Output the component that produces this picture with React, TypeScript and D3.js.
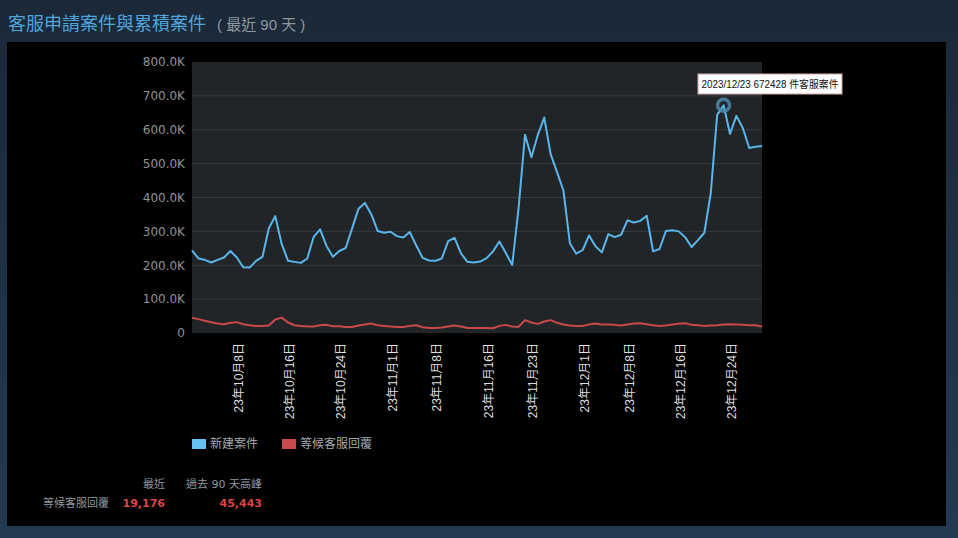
import * as d3 from "d3";

// 90 days, 2023-10-01 .. 2023-12-29
const startDay = new Date(2023, 9, 1);

// 新建案件 (daily new cases)
const newCases = [
  244000, 220000, 216000, 208000, 216000, 223000, 242000, 223000, 194000, 193000,
  213000, 225000, 309000, 345000, 263000, 213000, 210000, 207000, 220000, 284000,
  306000, 257000, 225000, 242000, 251000, 309000, 367000, 384000, 350000, 301000,
  296000, 299000, 286000, 282000, 298000, 259000, 222000, 214000, 213000, 220000,
  271000, 281000, 235000, 210000, 208000, 211000, 221000, 241000, 270000, 236000,
  201000, 370000, 585000, 519000, 585000, 636000, 528000, 475000, 420000, 265000,
  234000, 245000, 288000, 256000, 238000, 292000, 283000, 290000, 333000, 326000,
  331000, 346000, 241000, 248000, 301000, 303000, 300000, 283000, 254000, 274000,
  296000, 413000, 644000, 672428, 588000, 641000, 605000, 546000, 550000, 552000,
];

// 等候客服回覆 (waiting for a reply)
const waiting = [
  44800, 41000, 36000, 32000, 28000, 26000, 30000, 32000, 26000, 23000,
  21000, 21000, 22000, 40000, 45443, 31000, 23000, 21000, 19000, 19000,
  23000, 24000, 20000, 20000, 18000, 18000, 22000, 25000, 28000, 23000,
  21000, 19000, 18000, 18000, 21000, 23000, 17000, 15000, 15000, 16000,
  19000, 22000, 19000, 15000, 15000, 15000, 15000, 14000, 21000, 24000,
  19000, 18000, 38000, 31000, 27000, 34000, 38000, 30000, 25000, 22000,
  21000, 21000, 25000, 28000, 25000, 25000, 24000, 22000, 25000, 28000,
  29000, 26000, 23000, 21000, 22000, 25000, 27000, 29000, 24000, 23000,
  21000, 22000, 23000, 25000, 26000, 25000, 24000, 23000, 23000, 19176,
];

const tickDates = [
  "2023-10-08", "2023-10-16", "2023-10-24", "2023-11-01", "2023-11-08", "2023-11-16",
  "2023-11-23", "2023-12-01", "2023-12-08", "2023-12-16", "2023-12-24",
];
const yTicks = [0, 100000, 200000, 300000, 400000, 500000, 600000, 700000, 800000];

const series = [
  { name: "新建案件", values: newCases, line: "#59b6ea", swatch: "#66c0f4" },
  { name: "等候客服回覆", values: waiting, line: "#c94848", swatch: "#c94a4a" },
];

const highlightIndex = 83; // 2023/12/23

const W = 958;
const H = 538;
const plot = { left: 192, right: 762, top: 62, bottom: 333 };

const FONT = "'DejaVu Sans', 'Noto Sans CJK TC', sans-serif";
const CJK = "'Liberation Sans', 'Noto Sans CJK TC', sans-serif";

export default function App() {
  const days = d3.range(newCases.length).map((i) => d3.timeDay.offset(startDay, i));
  const parse = d3.timeParse("%Y-%m-%d");
  const fmtTick = d3.timeFormat("%y年%-m月%-d日");
  const fmtTip = d3.timeFormat("%Y/%m/%d");

  const x = d3
    .scaleTime()
    .domain([days[0], days[days.length - 1]])
    .range([plot.left, plot.right]);
  const y = d3.scaleLinear().domain([0, 800000]).range([plot.bottom, plot.top]);

  const line = d3
    .line<number>()
    .x((_, i) => x(days[i]))
    .y((d) => y(d));

  const yLabel = (v: number) => (v === 0 ? "0" : `${d3.format(".1f")(v / 1000)}K`);
  const num = d3.format(",");

  const hx = x(days[highlightIndex]);
  const hy = y(newCases[highlightIndex]);
  const recent = waiting[waiting.length - 1];
  const peak = d3.max(waiting) as number;

  return (
    <div style={{ position: "fixed", left: 0, top: 0 }}>
      <svg width={W} height={H} style={{ display: "block" }}>
        <defs>
          <linearGradient id="bg" x1="0" y1="0" x2="0" y2="1">
            <stop offset="0" stopColor="#1b2838" />
            <stop offset="1" stopColor="#233a52" />
          </linearGradient>
        </defs>
        <rect width={W} height={H} fill="url(#bg)" />

        {/* title */}
        <text x={8} y={30} fontFamily={CJK} fontSize={18} fill="#4fa6df">
          客服申請案件與累積案件
        </text>
        <text x={217} y={30} fontFamily={CJK} fontSize={15} fill="#8f98a0" xmlSpace="preserve">
          ( 最近 90 天 )
        </text>

        <rect x={7} y={42} width={939} height={484} fill="#000" />

        {/* plot area */}
        <rect
          x={plot.left}
          y={plot.top}
          width={plot.right - plot.left}
          height={plot.bottom - plot.top}
          fill="#222528"
        />
        {yTicks
          .filter((t) => t > 0 && t < 800000)
          .map((t) => (
            <line
              key={t}
              x1={plot.left}
              x2={plot.right}
              y1={y(t)}
              y2={y(t)}
              stroke="#363a3e"
              strokeWidth={1}
            />
          ))}
        {yTicks.map((t) => (
          <text
            key={t}
            x={185}
            y={y(t)}
            dy="0.36em"
            textAnchor="end"
            fontFamily={FONT}
            fontSize={12}
            fill="#8c949c"
          >
            {yLabel(t)}
          </text>
        ))}

        {tickDates.map((s) => {
          const d = parse(s) as Date;
          return (
            <text
              key={s}
              transform={`translate(${x(d)},343) rotate(-90)`}
              dy={6}
              textAnchor="end"
              fontFamily={CJK}
              fontSize={12}
              fill="#dcdedf"
            >
              {fmtTick(d)}
            </text>
          );
        })}

        {series.map((s) => (
          <path
            key={s.name}
            d={line(s.values) || ""}
            fill="none"
            stroke={s.line}
            strokeWidth={2}
            strokeLinejoin="round"
          />
        ))}

        {/* hover marker + tooltip */}
        <circle cx={hx} cy={hy} r={6} fill="none" stroke="#4f88ad" strokeOpacity={0.85} strokeWidth={3.5} />
        <rect x={698} y={74} width={144} height={20} fill="#fff" stroke="#d9a3a3" strokeWidth={1} />
        <text
          x={701.5}
          y={88}
          fontFamily={CJK}
          fontSize={10}
          fill="#111"
          textLength={137}
          lengthAdjust="spacingAndGlyphs"
        >
          {`${fmtTip(days[highlightIndex])} ${newCases[highlightIndex]} 件客服案件`}
        </text>

        {/* legend */}
        {series.map((s, i) => {
          const lx = 192 + i * 90;
          return (
            <g key={s.name}>
              <rect x={lx} y={439} width={14} height={10} fill={s.swatch} />
              <text x={lx + 18} y={448} fontFamily={FONT} fontSize={12} fill="#a3abb3">
                {s.name}
              </text>
            </g>
          );
        })}

        {/* summary table */}
        <g fontFamily={FONT} fontSize={11}>
          <text x={165} y={488} textAnchor="end" fill="#8f98a0">最近</text>
          <text x={262} y={488} textAnchor="end" fill="#8f98a0">過去 90 天高峰</text>
          <text x={109} y={507} textAnchor="end" fill="#8f98a0">等候客服回覆</text>
          <text x={165} y={507} textAnchor="end" fill="#d94545" fontWeight="bold">
            {num(recent)}
          </text>
          <text x={262} y={507} textAnchor="end" fill="#d94545" fontWeight="bold">
            {num(peak)}
          </text>
        </g>
      </svg>
    </div>
  );
}
